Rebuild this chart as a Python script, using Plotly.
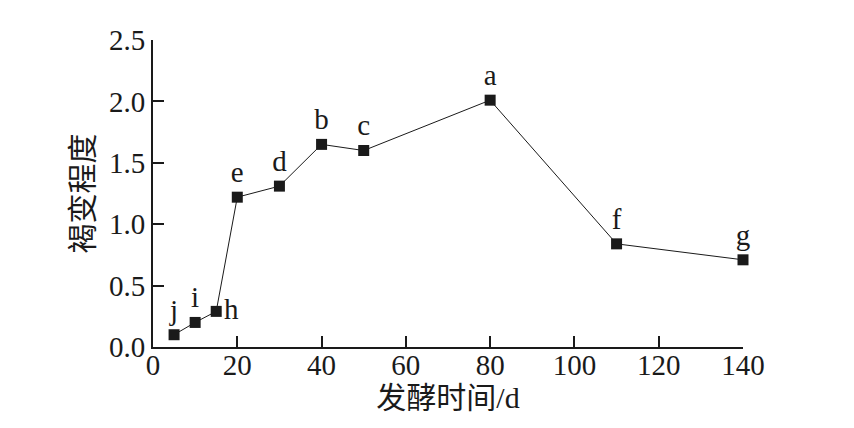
import plotly.graph_objects as go

days = [5, 10, 15, 20, 30, 40, 50, 80, 110, 140]
browning = [0.10, 0.20, 0.29, 1.22, 1.31, 1.65, 1.60, 2.01, 0.84, 0.71]
errors = [0.02, 0.02, 0.02, 0.02, 0.02, 0.02, 0.02, 0.02, 0.02, 0.02]
letters = ["j", "i", "h", "e", "d", "b", "c", "a", "f", "g"]
positions = ["top center", "top center", "middle right", "top center", "top center",
             "top center", "top center", "top center", "top center", "top center"]

x_ticks = [0, 20, 40, 60, 80, 100, 120, 140]
y_ticks = [0.0, 0.5, 1.0, 1.5, 2.0, 2.5]
y_ticklabels = ["0.0", "0.5", "1.0", "1.5", "2.0", "2.5"]

FONT = "Liberation Serif, Times New Roman, Noto Sans CJK SC, serif"

fig = go.Figure()
fig.add_trace(go.Scatter(
    x=days, y=browning,
    mode="lines+markers+text",
    line=dict(color="#1a1a1a", width=1),
    marker=dict(symbol="square", size=11, color="#1a1a1a"),
    error_y=dict(type="data", array=errors, color="#1a1a1a", thickness=1, width=4),
    text=letters,
    textposition=positions,
    textfont=dict(family=FONT, size=29, color="#1a1a1a"),
    cliponaxis=False,
    showlegend=False,
))

fig.update_layout(
    width=854, height=428,
    margin=dict(l=145, r=119, t=32, b=89),
    paper_bgcolor="white", plot_bgcolor="white",
    font=dict(family=FONT, size=29, color="#1a1a1a"),
    xaxis=dict(
        range=[0, 140], tickvals=x_ticks,
        ticks="inside", ticklen=11, tickwidth=1.5, tickcolor="#1a1a1a",
        showline=True, linecolor="#1a1a1a", linewidth=2,
        showgrid=False, zeroline=False,
        tickfont=dict(family=FONT, size=29),
        ticklabelstandoff=-9,
        title=dict(text="发酵时间/d", font=dict(family=FONT, size=30), standoff=0),
        automargin=False,
    ),
    yaxis=dict(
        range=[0, 2.5], tickvals=y_ticks, ticktext=y_ticklabels,
        ticks="inside", ticklen=11, tickwidth=1.5, tickcolor="#1a1a1a",
        showline=True, linecolor="#1a1a1a", linewidth=2,
        showgrid=False, zeroline=False,
        tickfont=dict(family=FONT, size=29),
        title=dict(text="褐变程度", font=dict(family=FONT, size=30), standoff=6),
        automargin=False,
    ),
)

fig.write_html("out.html")
